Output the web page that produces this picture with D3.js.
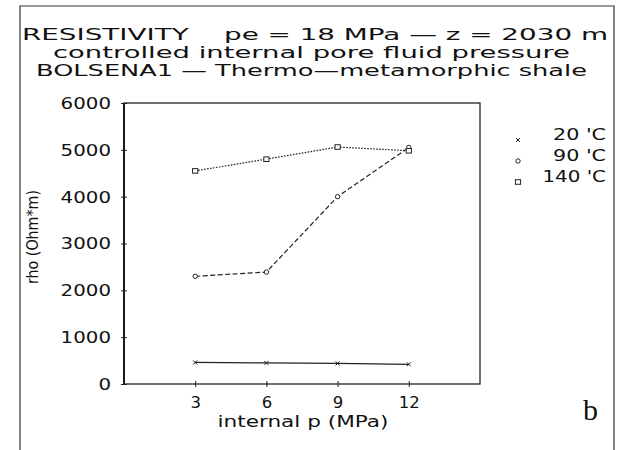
<!DOCTYPE html>
<html>
<head>
<meta charset="utf-8">
<script src="https://cdn.jsdelivr.net/npm/d3@7"></script>
<style>
  html, body { margin: 0; padding: 0; background: #fff; }
  svg { display: block; }
  text { fill: #111; white-space: pre; }
</style>
</head>
<body>
<script>
// ---- data ----
const titleLines = [
  "RESISTIVITY    pe = 18 MPa — z = 2030 m",
  "controlled internal pore fluid pressure",
  "BOLSENA1 — Thermo—metamorphic shale"
];
const pressures = [3, 6, 9, 12];
const seriesNames = ["20 'C", "90 'C", "140 'C"];
const rho20 = [460, 450, 440, 420];
const rho90 = [2300, 2390, 4000, 5050];
const rho140 = [4550, 4800, 5060, 4980];
const xTicks = [3, 6, 9, 12];
const yTicks = [0, 1000, 2000, 3000, 4000, 5000, 6000];
const xLabel = "internal p (MPa)";
const yLabel = "rho (Ohm*m)";
const panelLetter = "b";

// ---- layout ----
const W = 619, H = 450;
const L = 124, R = 480, T = 103, B = 384;
const SANS = "'DejaVu Sans', sans-serif";

const svg = d3.select("body").append("svg").attr("width", W).attr("height", H);
svg.style("font-family", SANS);

// outer frame
svg.append("path")
  .attr("d", `M20,450 L20,6 L614,6 L614,450`)
  .attr("fill", "none").attr("stroke", "#333").attr("stroke-width", 1.2);

// titles
const titleSpec = [
  {x: 22, y: 40, w: 586},
  {x: 53, y: 58, w: 517},
  {x: 36, y: 76, w: 551}
];
titleLines.forEach((t, i) => {
  svg.append("text")
    .attr("x", titleSpec[i].x).attr("y", titleSpec[i].y)
    .attr("font-size", 15)
    .attr("textLength", titleSpec[i].w).attr("lengthAdjust", "spacingAndGlyphs")
    .text(t);
});

const x = d3.scaleLinear().domain([0, 15]).range([L, R]);
const y = d3.scaleLinear().domain([0, 6000]).range([B, T]);

// plot frame
svg.append("rect").attr("x", L).attr("y", T).attr("width", R - L).attr("height", B - T)
  .attr("fill", "none").attr("stroke", "#222").attr("stroke-width", 1.3);
svg.append("line").attr("x1", L).attr("x2", L).attr("y1", T).attr("y2", B)
  .attr("stroke", "#111").attr("stroke-width", 1.8);

// x axis
const xAxis = d3.axisBottom(x).tickValues(xTicks).tickSizeInner(6).tickSizeOuter(0)
  .tickFormat(d3.format("d"));
const gx = svg.append("g").attr("transform", `translate(0,${B - 3})`).call(xAxis);
gx.select(".domain").remove();
gx.attr("font-family", null).attr("font-size", null);
gx.selectAll(".tick line").attr("stroke", "#222");
gx.selectAll(".tick text").attr("font-size", 16)
  .attr("fill", "#111").attr("y", 27).attr("dy", 0)
  .attr("textLength", d => String(d).length * 10.5).attr("lengthAdjust", "spacingAndGlyphs");

// y axis
const yAxis = d3.axisLeft(y).tickValues(yTicks).tickSizeInner(-6).tickSizeOuter(0)
  .tickFormat(d3.format("d"));
const gy = svg.append("g").attr("transform", `translate(${L - 3},0)`).call(yAxis);
gy.select(".domain").remove();
gy.attr("font-family", null).attr("font-size", null);
gy.selectAll(".tick line").attr("stroke", "#222");
gy.selectAll(".tick text").attr("font-size", 15)
  .attr("fill", "#111").attr("x", -10).attr("dy", "0.36em")
  .attr("textLength", d => String(d).length * 12.6).attr("lengthAdjust", "spacingAndGlyphs");

// axis labels
svg.append("text").attr("x", 303).attr("y", 427).attr("text-anchor", "middle")
  .attr("font-size", 15).attr("textLength", 171).attr("lengthAdjust", "spacingAndGlyphs").text(xLabel);
svg.append("text").attr("transform", "translate(38,237) rotate(-90)").attr("text-anchor", "middle")
  .attr("font-size", 15).attr("textLength", 94).attr("lengthAdjust", "spacingAndGlyphs").text(yLabel);

// series
const series = [
  {name: seriesNames[0], vals: rho20, dash: null, marker: "x"},
  {name: seriesNames[1], vals: rho90, dash: "5,2.5", marker: "o"},
  {name: seriesNames[2], vals: rho140, dash: "1.6,1.4", marker: "s"}
];
const line = d3.line().x((d, i) => x(pressures[i])).y(d => y(d));

function drawMarker(g, type, cx, cy) {
  if (type === "x") {
    g.append("path").attr("d", `M${cx-2},${cy-2}L${cx+2},${cy+2}M${cx-2},${cy+2}L${cx+2},${cy-2}`)
      .attr("stroke", "#222").attr("stroke-width", 1).attr("fill", "none");
  } else if (type === "o") {
    g.append("circle").attr("cx", cx).attr("cy", cy).attr("r", 2.2)
      .attr("fill", "#fff").attr("stroke", "#222").attr("stroke-width", 1);
  } else {
    g.append("rect").attr("x", cx - 2.6).attr("y", cy - 2.3).attr("width", 5.2).attr("height", 4.6)
      .attr("fill", "#fff").attr("stroke", "#222").attr("stroke-width", 1);
  }
}

series.forEach(s => {
  svg.append("path").datum(s.vals).attr("d", line)
    .attr("fill", "none").attr("stroke", "#222").attr("stroke-width", 1.2)
    .attr("stroke-dasharray", s.dash);
  const g = svg.append("g");
  s.vals.forEach((v, i) => drawMarker(g, s.marker, x(pressures[i]), y(v)));
});

// legend
const legY = [140, 161, 182];
series.forEach((s, i) => {
  const g = svg.append("g");
  drawMarker(g, s.marker, 518, legY[i]);
  svg.append("text").attr("x", 606).attr("y", legY[i]).attr("text-anchor", "end")
    .attr("font-size", 15)
    .attr("textLength", s.name.length * 10.6).attr("lengthAdjust", "spacingAndGlyphs")
    .text(s.name);
});

// panel letter
svg.append("text").attr("x", 583).attr("y", 420)
  .style("font-family", "'Liberation Serif', serif").attr("font-size", 30).text(panelLetter);
</script>
</body>
</html>
